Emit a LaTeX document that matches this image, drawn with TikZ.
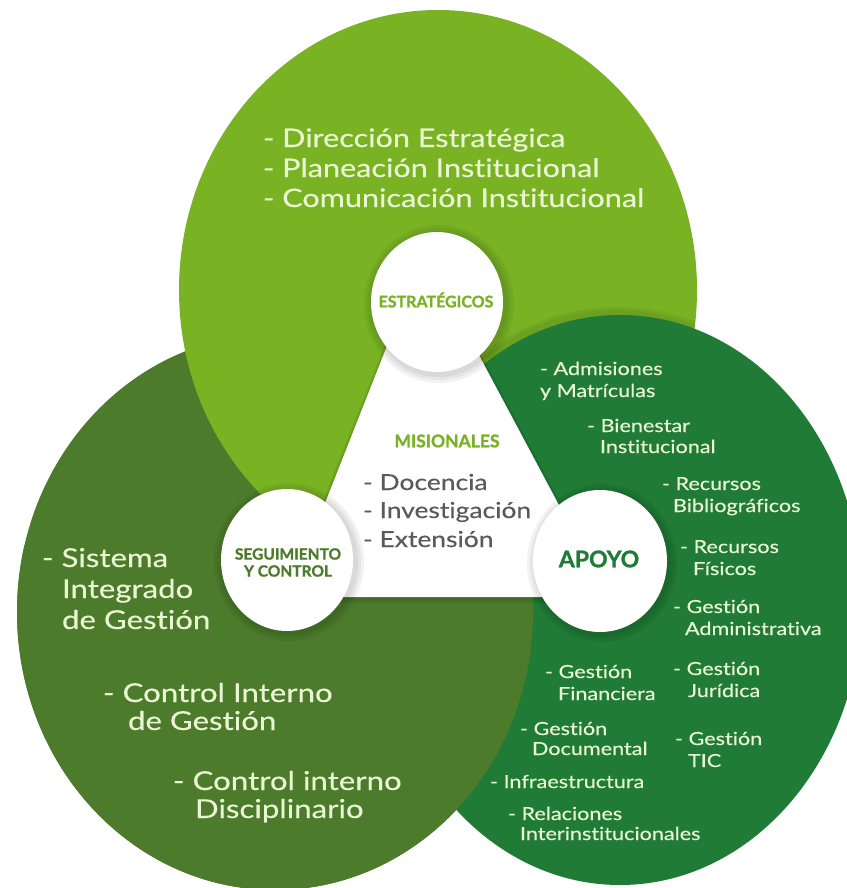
\documentclass[tikz,border=0pt]{standalone}
\usepackage{fontspec}
\setmainfont{Lato}
\newfontfamily\widefont{Lato}[FakeStretch=1.2, FakeBold=0.3, Ligatures=NoCommon]
\newfontfamily\heavyfont{Lato}[FakeBold=1.2, Ligatures=NoCommon]
\definecolor{lgreen}{HTML}{79B324}
\definecolor{ogreen}{HTML}{4B7B2B}
\definecolor{dgreen}{HTML}{1F7B35}
\definecolor{cream}{HTML}{EAF5D3}
\definecolor{greytext}{HTML}{5A5A5A}
\begin{document}
\begin{tikzpicture}[x=1pt,y=-1pt,
  txt/.style={anchor=base west, inner sep=0pt, outer sep=0pt},
  biglist/.style={txt, text=cream, font=\widefont\fontsize{26}{30}\selectfont},
  toplist/.style={txt, text=cream, font=\widefont\fontsize{25.5}{30}\selectfont},
  smalllist/.style={txt, text=cream, font=\widefont\fontsize{18}{22}\selectfont},
  mislist/.style={txt, text=greytext, font=\widefont\fontsize{22}{28}\selectfont},
  label/.style={anchor=center, inner sep=0pt},
  softshadow/.style={fill=black, opacity=0.05}
]
\useasboundingbox (0,0) rectangle (846,888);
\fill[white] (0,0) rectangle (846,888);

% olive (left) circle
\fill[ogreen] (275,612) ellipse [x radius=258, y radius=278];
% light (top) circle
\fill[lgreen] (438,290) ellipse [x radius=259, y radius=280];
% soft shadow of the dark circle, only on the light one
\begin{scope}
  \clip (438,290) ellipse [x radius=259, y radius=280];
  \foreach \d in {3,6} {
    \fill[softshadow] (617,598) ellipse [x radius=242+\d, y radius=285+\d];
  }
\end{scope}
% dark (right) circle
\fill[dgreen] (620,600) ellipse [x radius=242, y radius=285];
% olive again over the dark one at the bottom
\begin{scope}
  \clip (0,545) rectangle (846,888);
  \fill[ogreen] (275,612) ellipse [x radius=258, y radius=278];
\end{scope}

% white triangle with soft shadow
\foreach \d in {2,4,6} {
  \fill[softshadow] (288-\d,597+\d) -- (424,252-\d) -- (608+\d,597+\d) -- cycle;
}
\fill[white] (288,597) -- (424,252) -- (608,597) -- cycle;

% white circles with soft shadows
\foreach \cx/\cy in {437/302, 287/560, 600/561} {
  \foreach \d in {3,6,9} {
    \fill[softshadow] (\cx+2,\cy+2) ellipse [x radius=66+\d, y radius=70+\d];
  }
}
\fill[white] (437,302) ellipse [x radius=66, y radius=70];
\fill[white] (287,560) ellipse [x radius=66, y radius=71];
\fill[white] (600,561) ellipse [x radius=67, y radius=71];

% circle labels
\node[label, text=lgreen, font=\heavyfont\bfseries\fontsize{16}{18}\selectfont] (estr) at (436,300) {ESTRATÉGICOS};
\node[label, text=ogreen, font=\heavyfont\bfseries\fontsize{15.5}{18}\selectfont] (seg1) at (288,554) {SEGUIMIENTO};
\node[label, text=ogreen, font=\heavyfont\bfseries\fontsize{15.5}{18}\selectfont] (seg2) at (288,571) {Y CONTROL};
\node[label, text=dgreen, font=\heavyfont\bfseries\fontsize{23}{26}\selectfont] (apoyo) at (599,559) {APOYO};
\node[label, text=lgreen, font=\heavyfont\bfseries\fontsize{17.5}{20}\selectfont] (mis) at (447,441) {MISIONALES};

% misionales list
\node[mislist] (m1) at (363,490) {- Docencia};
\node[mislist] (m2) at (363,518) {- Investigación};
\node[mislist] (m3) at (363,547) {- Extensión};

% top list
\node[toplist] (e1) at (263,147) {- Dirección Estratégica};
\node[toplist] (e2) at (263,177) {- Planeación Institucional};
\node[toplist] (e3) at (263,207) {- Comunicación Institucional};

% left list
\node[biglist] (s1) at (42,567) {- Sistema};
\node[biglist] (s2) at (62,598) {Integrado};
\node[biglist] (s3) at (62,629) {de Gestión};
\node[biglist] (s4) at (103,702) {- Control Interno};
\node[biglist] (s5) at (128,730) {de Gestión};
\node[biglist] (s6) at (173,790) {- Control interno};
\node[biglist] (s7) at (195,818) {Disciplinario};

% right list
\node[smalllist] (a1) at (540,375) {- Admisiones};
\node[smalllist] (a2) at (540,397) {y Matrículas};
\node[smalllist] (a3) at (587,432) {- Bienestar};
\node[smalllist] (a4) at (600,453) {Institucional};
\node[smalllist] (a5) at (662,490) {- Recursos};
\node[smalllist] (a6) at (673,512) {Bibliográficos};
\node[smalllist] (a7) at (680,553) {- Recursos};
\node[smalllist] (a8) at (693,575) {Físicos};
\node[smalllist] (a9) at (673,613) {- Gestión};
\node[smalllist] (a10) at (685,635) {Administrativa};
\node[smalllist] (a11) at (673,675) {- Gestión};
\node[smalllist] (a12) at (688,697) {Jurídica};
\node[smalllist] (a13) at (545,678) {- Gestión};
\node[smalllist] (a14) at (558,700) {Financiera};
\node[smalllist] (a15) at (520,735) {- Gestión};
\node[smalllist] (a16) at (532,755) {Documental};
\node[smalllist] (a17) at (675,745) {- Gestión};
\node[smalllist] (a18) at (688,767) {TIC};
\node[smalllist] (a19) at (490,788) {- Infraestructura};
\node[smalllist] (a20) at (508,820) {- Relaciones};
\node[smalllist] (a21) at (520,840) {Interinstitucionales};
\end{tikzpicture}
\end{document}
